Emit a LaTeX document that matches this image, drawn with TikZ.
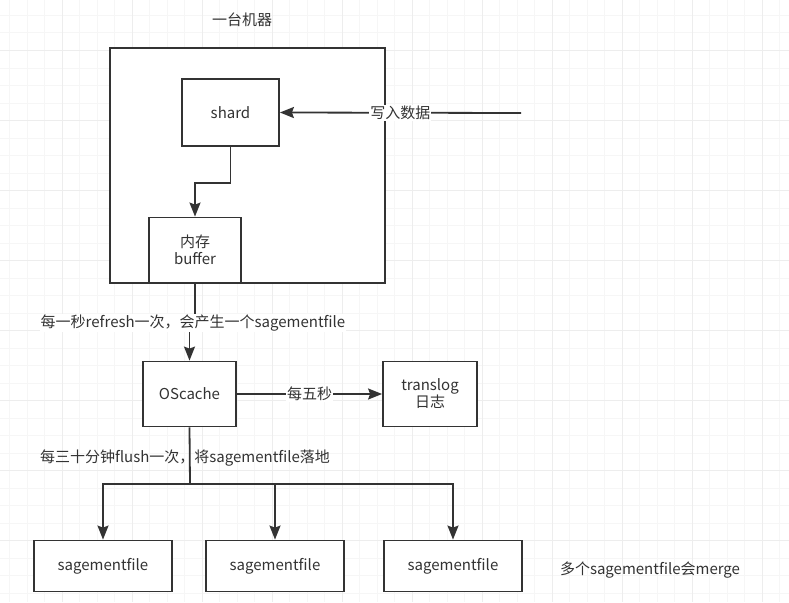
\documentclass[tikz,border=0pt]{standalone}
\usepackage{fontspec}
\setmainfont{Noto Sans CJK SC}
\usetikzlibrary{arrows.meta}
\definecolor{ink}{HTML}{333333}
\definecolor{gridminor}{HTML}{F6F6F6}
\definecolor{gridmajor}{HTML}{EDEDED}
\tikzset{box/.style={draw=ink, line width=1.8pt, fill=white, text=ink, align=center, inner sep=0pt},
arr/.style={draw=ink, line width=1.8pt, -{Stealth[length=14pt,width=11pt,inset=2pt]}},
wire/.style={draw=ink, line width=1.8pt},
lbl/.style={fill=white, text=ink, inner sep=1pt},
%plain text, no background
note/.style={text=ink, inner sep=0pt},
every node/.append style={font=\fontsize{15}{17}\selectfont}}

\begin{document}
\begin{tikzpicture}[x=1pt, y=-1pt]

\fill[white] (0,0) rectangle (789,602);
\useasboundingbox (0,0) rectangle (789,602);

\foreach \k in {0,...,44}
    \draw[gridminor, line width=1pt] (9.5+17.5*\k,0) -- (9.5+17.5*\k,602);
\foreach \k in {0,...,33}
    \draw[gridminor, line width=1pt] (0,15.5+17.5*\k) -- (789,15.5+17.5*\k);
\foreach \k in {0,...,10}
    \draw[gridmajor, line width=1pt] (62.5+70*\k,0) -- (62.5+70*\k,602);
\foreach \k in {0,...,7}
    \draw[gridmajor, line width=1pt] (0,50.5+70*\k) -- (789,50.5+70*\k);

\node[note] (title) at (242,20) {一台机器};
\node[box, minimum width=275, minimum height=235] (machine) at (247.5,165.5) {};

\node[box, minimum width=97, minimum height=67] (shard) at (230.5,112.5) {shard};
\node[box, minimum width=92, minimum height=65] (buffer) at (195,250) {内存\\buffer};
\node[box, minimum width=93, minimum height=65] (oscache) at (189.5,394) {OScache};
\node[box, minimum width=94, minimum height=65] (translog) at (430,394) {translog\\日志};

\foreach \i/\x in {1/103, 2/275, 3/453}
    \node[box, minimum width=138, minimum height=51] (sf\i) at (\x,566) {sagementfile};

\node[note] (merge) at (650,570) {多个sagementfile会merge};

\coordinate (input) at (521,113);
\coordinate (bus) at (190,484);

\draw[arr] (input) -- node[lbl] {写入数据} (shard.east);
\draw[arr] (shard.south) -- ++(0,36) -| (buffer.north);
\draw[arr] (buffer.south) -- ++(0,40) -| (oscache.north);
\node[lbl] (refresh) at (193,323) {每一秒refresh一次，会产生一个sagementfile};
\draw[arr] (oscache.east) -- node[lbl] {每五秒} (translog.west);

\draw[wire] (oscache.south) -- (bus);
\node[note] (flush) at (185,458) {每三十分钟flush一次，将sagementfile落地};
\foreach \i in {1,2,3}
    \draw[arr] (bus) -| (sf\i.north);

\end{tikzpicture}
\end{document}
